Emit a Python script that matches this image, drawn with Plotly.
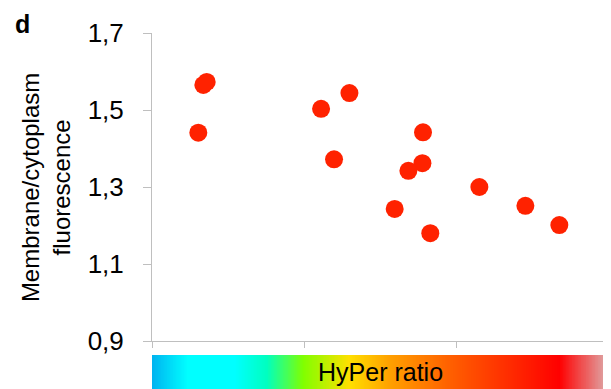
import numpy as np
import plotly.graph_objects as go

# HyPer ratio (arbitrary units, axis 0..3) vs membrane/cytoplasm fluorescence
hyper_ratio = [0.337, 0.359, 0.304, 1.110, 1.296, 1.195, 1.779, 1.775,
               1.683, 1.593, 1.827, 2.149, 2.451, 2.674]
mem_cyto = [1.565, 1.573, 1.441, 1.503, 1.544, 1.372, 1.442, 1.362,
            1.342, 1.243, 1.180, 1.300, 1.251, 1.201]

y_ticks = [0.9, 1.1, 1.3, 1.5, 1.7]
x_ticks = [0, 1, 2, 3]

# colour ramp of the HyPer ratio bar
ramp_stops = [0.0, 0.077, 0.18, 0.25, 0.33, 0.43, 0.52, 0.65, 0.77, 0.89, 1.0]
ramp_colors = ["#00b4f0", "#00ffff", "#00ffff", "#00ffc0", "#80ff00", "#ffe000",
               "#ffa000", "#ff6000", "#ff3000", "#ff0000", "#dcb0b0"]

FONT = "Liberation Sans, Arial, sans-serif"
AX = "#bfbfbf"

fig = go.Figure()

fig.add_trace(go.Scatter(
    x=hyper_ratio, y=mem_cyto, mode="markers",
    marker=dict(size=18, color="#ff2200", line=dict(width=0)),
    showlegend=False, hoverinfo="x+y"))

ramp = np.linspace(0, 1, 300)
fig.add_trace(go.Heatmap(
    z=[ramp], x=ramp, y=[0], xaxis="x2", yaxis="y2",
    colorscale=[[s, c] for s, c in zip(ramp_stops, ramp_colors)],
    showscale=False, hoverinfo="skip", zsmooth="best"))

# page body adds an 8px offset, so the figure is 8px smaller than the window
fig.update_layout(
    width=603, height=381,
    margin=dict(l=144, r=2, t=25, b=0, autoexpand=False),
    plot_bgcolor="white", paper_bgcolor="white",
    separators=",.",
    font=dict(family=FONT, color="black"),
    xaxis=dict(range=[0, 3], tickvals=x_ticks, showticklabels=False,
               ticks="outside", ticklen=6, tickcolor=AX, showgrid=False,
               zeroline=False, showline=True, linecolor=AX, linewidth=1,
               anchor="y", automargin=False),
    yaxis=dict(range=[0.9, 1.7], tickvals=y_ticks, tickformat=".1f",
               domain=[0.1348, 1], ticks="outside", ticklen=8, tickcolor=AX,
               showgrid=False, zeroline=False, showline=True, linecolor=AX,
               linewidth=1, tickfont=dict(size=26, family=FONT),
               ticklabelstandoff=14, automargin=False),
    xaxis2=dict(range=[0, 1], domain=[0, 1], anchor="y2", visible=False,
                fixedrange=True),
    yaxis2=dict(range=[-0.5, 0.5], domain=[0, 0.0955], anchor="x2",
                visible=False, fixedrange=True),
    annotations=[
        dict(text="HyPer ratio", x=0.5, y=0.048, xref="paper", yref="paper",
             xanchor="center", yanchor="middle", showarrow=False,
             font=dict(size=25, family=FONT, color="black")),
        dict(text="Membrane/cytoplasm<br>fluorescence", textangle=-90,
             x=-0.232, y=0.567, xref="paper", yref="paper",
             xanchor="center", yanchor="middle", showarrow=False,
             font=dict(size=24, family=FONT, color="black")),
        dict(text="<b>d</b>", x=-0.284, y=1.0702, xref="paper", yref="paper",
             xanchor="center", yanchor="top", showarrow=False,
             font=dict(size=25, family=FONT, color="black")),
    ],
)

fig.write_html("out.html")
